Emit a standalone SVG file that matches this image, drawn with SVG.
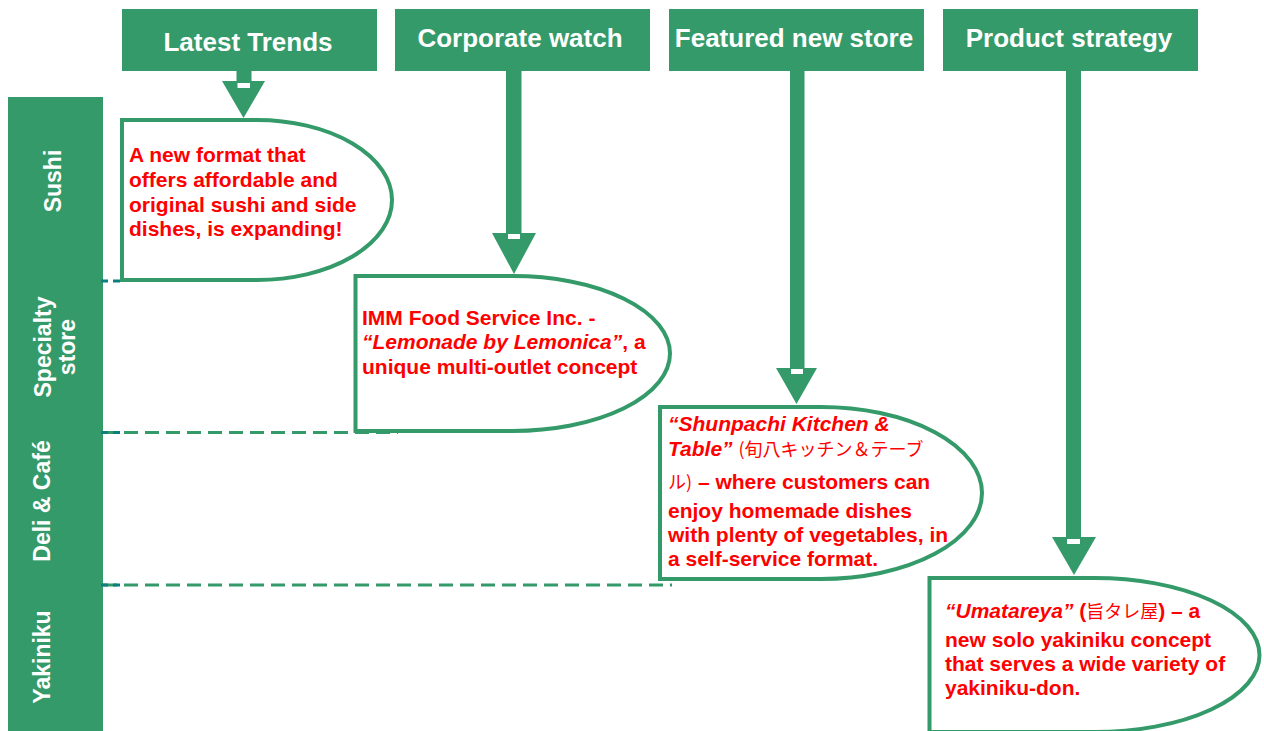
<svg xmlns="http://www.w3.org/2000/svg" width="1264" height="731" viewBox="0 0 1264 731">
  <style>
    .hdr { fill: #359A6A; }
    .hdrtxt { font-family: "Liberation Sans", Arial, sans-serif; font-weight: bold; font-size: 26px; fill: #FFFFFF; text-anchor: middle; }
    .side { font-family: "Liberation Sans", Arial, sans-serif; font-weight: bold; font-size: 23px; fill: #FFFFFF; text-anchor: middle; }
    .call { fill: #FFFFFF; stroke: #359A6A; stroke-width: 4; }
    .ct { font-family: "Liberation Sans", Arial, "Noto Sans CJK JP", sans-serif; font-weight: bold; font-size: 21px; fill: #FF0000; }
    .it { font-style: italic; }
    .jp { font-family: "Noto Sans CJK JP", sans-serif; font-weight: normal; font-size: 18px; }
    .dash { stroke: #359A6A; stroke-width: 3; stroke-dasharray: 14 7; fill: none; }
    .dasht { stroke: #0E7F80; stroke-width: 3; stroke-dasharray: 7 5; fill: none; }
    .arr { fill: #359A6A; }
    .arrw { fill: #FFFFFF; }
  </style>

  <g id="sidebar">
    <rect x="8" y="97" width="95" height="640" class="hdr"/>
    <text class="side" transform="translate(61,181) rotate(-90)">Sushi</text>
    <text class="side" transform="translate(51,347) rotate(-90)">Specialty</text>
    <text class="side" transform="translate(75,347) rotate(-90)">store</text>
    <text class="side" transform="translate(50,501) rotate(-90)">Deli &amp; Café</text>
    <text class="side" transform="translate(50,657) rotate(-90)">Yakiniku</text>
  </g>

  <g id="connectors">
    <line x1="103" y1="432.5" x2="398" y2="432.5" class="dash"/>
    <line x1="103" y1="585" x2="672" y2="585" class="dash"/>
    <line x1="101" y1="281" x2="123" y2="281" class="dasht"/>
    <line x1="101" y1="432.5" x2="123" y2="432.5" class="dasht"/>
    <line x1="101" y1="585" x2="123" y2="585" class="dasht"/>

    <rect x="236.5" y="71" width="15" height="12" class="arr"/>
    <polygon points="222,81 265,81 243.5,118" class="arr"/>
    <rect x="237.5" y="83" width="12.5" height="5" class="arrw"/>

    <rect x="506" y="71" width="15.5" height="164" class="arr"/>
    <polygon points="492,233 536,233 514,274" class="arr"/>
    <rect x="508" y="234" width="12" height="5" class="arrw"/>

    <rect x="790" y="71" width="14.5" height="299" class="arr"/>
    <polygon points="776,368 817,368 796.5,404" class="arr"/>
    <rect x="791" y="369" width="12" height="5" class="arrw"/>

    <rect x="1066" y="71" width="15" height="468" class="arr"/>
    <polygon points="1052,537 1096,537 1074,575" class="arr"/>
    <rect x="1067" y="539" width="13" height="5" class="arrw"/>
  </g>

  <g id="hdr-latest">
    <rect x="122" y="9" width="255" height="62" class="hdr"/>
    <text class="hdrtxt" x="248" y="51">Latest Trends</text>
  </g>
  <g id="hdr-corporate">
    <rect x="395" y="9" width="255" height="62" class="hdr"/>
    <text class="hdrtxt" x="520" y="47">Corporate watch</text>
  </g>
  <g id="hdr-featured">
    <rect x="669" y="9" width="255" height="62" class="hdr"/>
    <text class="hdrtxt" x="794" y="47">Featured new store</text>
  </g>
  <g id="hdr-product">
    <rect x="943" y="9" width="255" height="62" class="hdr"/>
    <text class="hdrtxt" x="1069" y="47">Product strategy</text>
  </g>

  <g id="callout-sushi">
    <path d="M122,120 H257 A135,80 0 0 1 257,280 H122 Z" class="call"/>
    <text class="ct" x="129" y="162">A new format that</text>
    <text class="ct" x="129" y="187">offers affordable and</text>
    <text class="ct" x="129" y="211.5">original sushi and side</text>
    <text class="ct" x="129" y="236">dishes, is expanding!</text>
  </g>

  <g id="callout-specialty">
    <path d="M355.5,276 H512.75 A157.25,77.5 0 0 1 512.75,431 H355.5 Z" class="call"/>
    <text class="ct" x="362" y="324.5">IMM Food Service Inc. -</text>
    <text class="ct" x="362" y="349"><tspan class="it">“Lemonade by Lemonica”</tspan>, a</text>
    <text class="ct" x="362" y="373.5">unique multi-outlet concept</text>
  </g>

  <g id="callout-deli">
    <path d="M660,407 H821 A161,86 0 0 1 821,579 H660 Z" class="call"/>
    <text class="ct" x="668" y="431"><tspan class="it">“Shunpachi Kitchen &amp;</tspan></text>
    <text class="ct" x="668" y="456"><tspan class="it">Table”</tspan> <tspan class="jp">(旬八キッチン＆テーブ</tspan></text>
    <text class="ct" x="668" y="488.5"><tspan class="jp">ル)</tspan> – where customers can</text>
    <text class="ct" x="668" y="518">enjoy homemade dishes</text>
    <text class="ct" x="668" y="542">with plenty of vegetables, in</text>
    <text class="ct" x="668" y="566">a self-service format.</text>
  </g>

  <g id="callout-yakiniku">
    <path d="M929.5,578 H1094.5 A165,77 0 0 1 1094.5,732 H929.5 Z" class="call"/>
    <text class="ct" x="945" y="618"><tspan class="it">“Umatareya”</tspan> (<tspan class="jp">旨タレ屋</tspan>) – a</text>
    <text class="ct" x="945" y="647">new solo yakiniku concept</text>
    <text class="ct" x="945" y="671">that serves a wide variety of</text>
    <text class="ct" x="945" y="695">yakiniku-don.</text>
  </g>
</svg>
